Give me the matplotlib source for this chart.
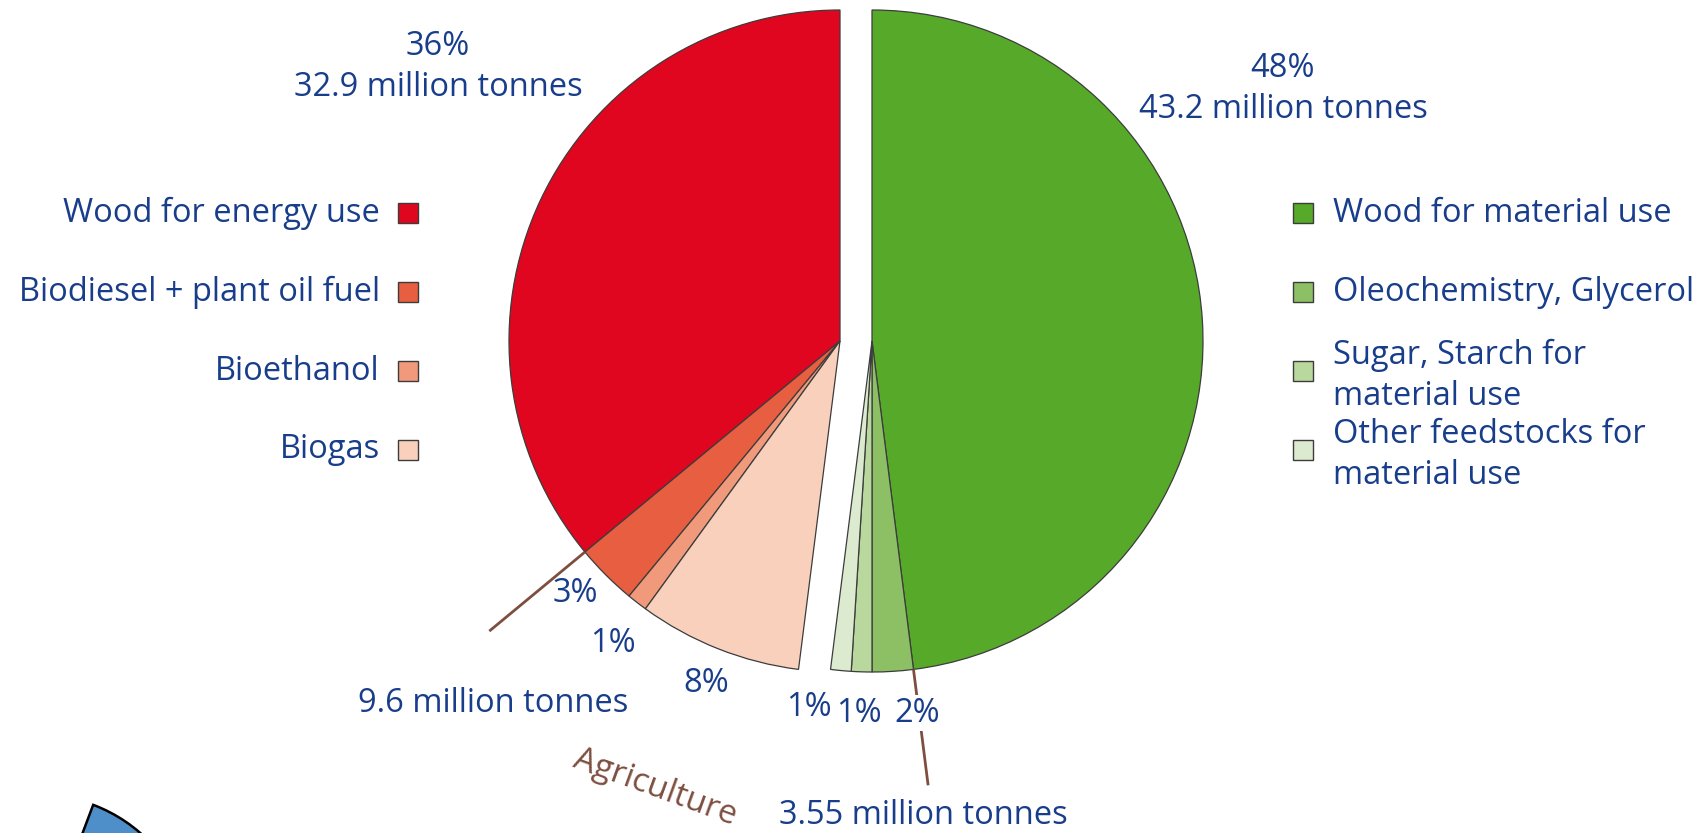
import numpy as np
import matplotlib
matplotlib.use("Agg")
import matplotlib.pyplot as plt
from matplotlib.patches import Rectangle, Wedge

plt.rcParams['font.family'] = ['Open Sans', 'DejaVu Sans']

# shares in percent of total biomass use
energy_labels = ["Wood for energy use", "Biodiesel + plant oil fuel", "Bioethanol", "Biogas"]
energy_share = [36, 3, 1, 8]
energy_colors = ["#E0061F", "#E85E40", "#F09A7B", "#F9D0BC"]

material_labels = ["Wood for material use", "Oleochemistry, Glycerol",
                   "Sugar, Starch for\nmaterial use", "Other feedstocks for\nmaterial use"]
material_share = [48, 2, 1, 1]
material_colors = ["#57AA29", "#8DC064", "#B8D89D", "#DCEBD0"]

# million tonnes
wood_energy_mt = 32.9
wood_material_mt = 43.2
agri_energy_mt = 9.6
agri_material_mt = 3.55

W, H = 1708, 833
navy = "#183D8A"
brown = "#7D4F40"
edge = "#3c3c3c"

fig = plt.figure(figsize=(W / 100, H / 100), dpi=100)
ax = fig.add_axes([0, 0, 1, 1])


def Y(y):
    return H - y


R = 331
c_energy = (840, Y(341))
c_material = (872, Y(341))

ax.pie([s / 100 for s in energy_share], colors=energy_colors, startangle=90,
       counterclock=True, center=c_energy, radius=R, normalize=False,
       wedgeprops=dict(edgecolor=edge, linewidth=0.9), frame=True)
ax.pie([s / 100 for s in material_share], colors=material_colors, startangle=90,
       counterclock=False, center=c_material, radius=R, normalize=False,
       wedgeprops=dict(edgecolor=edge, linewidth=0.9), frame=True)

# leader lines continue the wood / agriculture boundaries
a1 = np.deg2rad(90 + 3.6 * energy_share[0])
ax.plot([c_energy[0] + R * np.cos(a1), c_energy[0] + 1.375 * R * np.cos(a1)],
        [c_energy[1] + R * np.sin(a1), c_energy[1] + 1.375 * R * np.sin(a1)],
        color=brown, lw=2, solid_capstyle='butt', zorder=1)
a2 = np.deg2rad(90 - 3.6 * material_share[0])
ax.plot([c_material[0] + R * np.cos(a2), c_material[0] + 1.353 * R * np.cos(a2)],
        [c_material[1] + R * np.sin(a2), c_material[1] + 1.353 * R * np.sin(a2)],
        color=brown, lw=2, solid_capstyle='butt', zorder=1)

fs = 23.5
ax.text(438, Y(67), f"{energy_share[0]}%\n{wood_energy_mt} million tonnes",
        ha='center', va='center', color=navy, fontsize=fs, linespacing=1.35)
ax.text(1283, Y(89), f"{material_share[0]}%\n{wood_material_mt} million tonnes",
        ha='center', va='center', color=navy, fontsize=fs, linespacing=1.35)

# small slice percentages
for (x, y), s in zip([(575, 593), (613, 643), (706, 683)], energy_share[1:]):
    ax.text(x, Y(y), f"{s}%", ha='center', va='center', color=navy, fontsize=fs)
for (x, y), s in zip([(917, 713), (859, 713), (809, 708)], material_share[1:]):
    ax.text(x, Y(y), f"{s}%", ha='center', va='center', color=navy, fontsize=fs,
            bbox=dict(facecolor='white', edgecolor='none', pad=1), zorder=3)
ax.text(493, Y(703), f"{agri_energy_mt} million tonnes", ha='center', va='center',
        color=navy, fontsize=fs)
ax.text(923, Y(815), f"{agri_material_mt} million tonnes", ha='center', va='center',
        color=navy, fontsize=fs)
ax.text(655, Y(788), "Agriculture", ha='center', va='center', color=brown,
        fontsize=24, rotation=-20)

# legends
rows = [213, 292, 371, 450]
for y, lab, col in zip(rows, energy_labels, energy_colors):
    ax.add_patch(Rectangle((398, Y(y) - 10), 20, 20, facecolor=col, edgecolor=edge, lw=1))
    ax.text(380, Y(y), lab, ha='right', va='center', color=navy, fontsize=fs)
for y, lab, col in zip(rows, material_labels, material_colors):
    ax.add_patch(Rectangle((1293, Y(y) - 10), 20, 20, facecolor=col, edgecolor=edge, lw=1))
    dy = 5 if "\n" in lab else 0
    ax.text(1333, Y(y + dy), lab, ha='left', va='center', color=navy, fontsize=fs,
            linespacing=1.34)

# edge of the next chart peeking in at the bottom
ax.add_patch(Wedge((39, Y(949)), 154, 15, 69.4, facecolor="#4F8FC9",
                   edgecolor="black", lw=1.8))

ax.set_xlim(0, W)
ax.set_ylim(0, H)
ax.set_aspect('equal')
ax.axis('off')

fig.savefig("out.png", dpi=100)
